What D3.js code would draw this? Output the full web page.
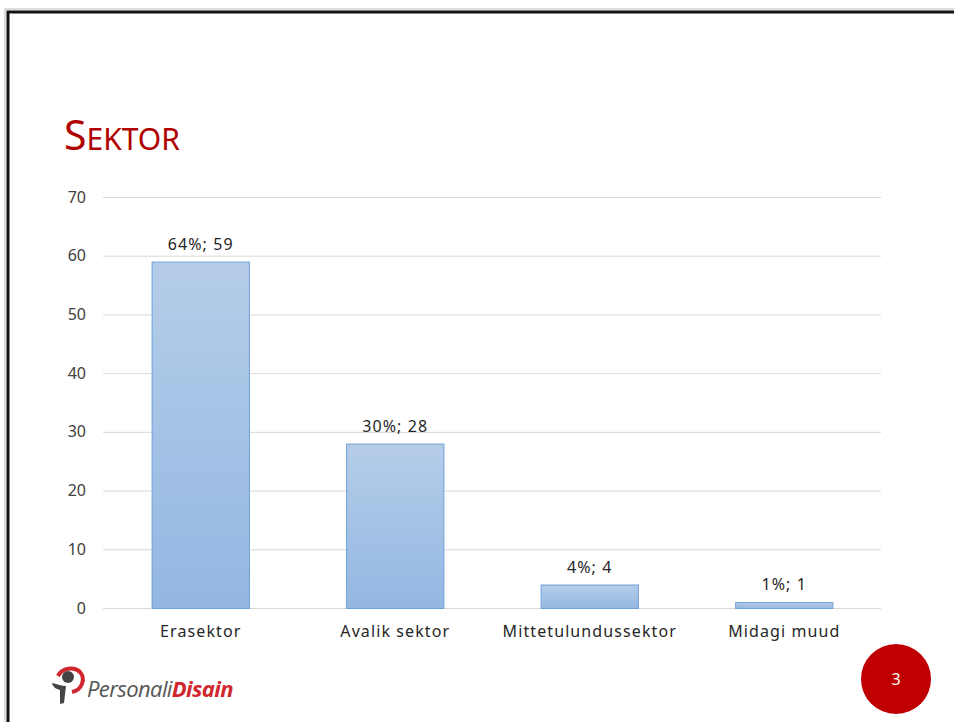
<!DOCTYPE html>
<html><head><meta charset="utf-8">
<script src="https://cdn.jsdelivr.net/npm/d3@7"></script>
<style>
html,body{margin:0;padding:0;background:#fff;overflow:hidden;}
svg{display:block;}
</style></head>
<body>
<script>
const categories = ["Erasektor", "Avalik sektor", "Mittetulundussektor", "Midagi muud"];
const values = [59, 28, 4, 1];
const percents = ["64%", "30%", "4%", "1%"];
const yTicks = [0, 10, 20, 30, 40, 50, 60, 70];

const W = 954, H = 722;
const svg = d3.select("body").append("svg").attr("width", W).attr("height", H);

// slide border
svg.append("rect").attr("x", 5).attr("y", 9).attr("width", 1000).attr("height", 800)
  .attr("fill", "none").attr("stroke", "#bbb").attr("stroke-width", 1);
svg.append("rect").attr("x", 8).attr("y", 12).attr("width", 1000).attr("height", 800)
  .attr("fill", "none").attr("stroke", "#111").attr("stroke-width", 3);

// title
const title = svg.append("text").attr("x", 64).attr("y", 150)
  .attr("fill", "#b00000").attr("font-family", "'Noto Sans', sans-serif");
title.append("tspan").attr("font-size", 41).text("S");
title.append("tspan").attr("font-size", 30).text("EKTOR");

const x = d3.scaleBand().domain(categories).range([103, 881]).paddingInner(0.5).paddingOuter(0.25);
const y = d3.scaleLinear().domain([0, 70]).range([608, 197]);

const font = "'Noto Sans', sans-serif";

// gridlines
svg.append("g").selectAll("line").data(yTicks).join("line")
  .attr("x1", 103).attr("x2", 881)
  .attr("y1", d => y(d) + 0.5).attr("y2", d => y(d) + 0.5)
  .attr("stroke", "#d9d9d9").attr("stroke-width", 1);

// y axis labels
const yAxis = d3.axisLeft(y).tickValues(yTicks).tickSize(0).tickPadding(0);
const gy = svg.append("g").attr("transform", "translate(86,0)").call(yAxis);
gy.select(".domain").remove();
gy.selectAll("text").attr("font-family", font).attr("font-size", 16).attr("fill", "#404040");

// gradient
const defs = svg.append("defs");
const grad = defs.append("linearGradient").attr("id", "bg").attr("x1", 0).attr("y1", 0).attr("x2", 0).attr("y2", 1);
grad.append("stop").attr("offset", "0%").attr("stop-color", "#b5cde9");
grad.append("stop").attr("offset", "100%").attr("stop-color", "#93b7e2");

svg.append("g").selectAll("rect").data(values).join("rect")
  .attr("x", (d, i) => x(categories[i]) + 0.5)
  .attr("y", d => y(d) + 0.5)
  .attr("width", x.bandwidth())
  .attr("height", d => y(0) - y(d))
  .attr("fill", "url(#bg)")
  .attr("stroke", "#6f9fd8").attr("stroke-width", 1);

// data labels
svg.append("g").selectAll("text").data(values).join("text")
  .attr("x", (d, i) => x(categories[i]) + x.bandwidth() / 2 + 0.5)
  .attr("y", d => y(d) - 12)
  .attr("text-anchor", "middle")
  .attr("font-family", font).attr("font-size", 16).attr("fill", "#262626")
  .attr("letter-spacing", 1.1)
  .text((d, i) => percents[i] + "; " + d);

// x axis labels
const xAxis = d3.axisBottom(x).tickSize(0).tickPadding(0);
const gx = svg.append("g").attr("transform", "translate(0.5,626)").call(xAxis);
gx.select(".domain").remove();
gx.selectAll("text").attr("font-family", font).attr("font-size", 16).attr("fill", "#262626")
  .attr("dy", "0.71em").attr("letter-spacing", 1.1);

// page number circle
svg.append("circle").attr("cx", 896).attr("cy", 679).attr("r", 35).attr("fill", "#c00000");
svg.append("text").attr("x", 896).attr("y", 685).attr("text-anchor", "middle")
  .attr("font-family", font).attr("font-size", 16).attr("fill", "#fff").text("3");

// logo
const logo = svg.append("g");
logo.append("path").attr("d", "M58,676 C62,668 74,666 80,672 C86,679 82,690 72,692")
  .attr("fill", "none").attr("stroke", "#d0262d").attr("stroke-width", 4);
logo.append("circle").attr("cx", 68).attr("cy", 677).attr("r", 6).attr("fill", "#444");
logo.append("path").attr("d", "M52,683 C58,684 62,686 66,686 L64,703 L60,704 L60,690 C56,689 53,687 52,683 Z")
  .attr("fill", "#444");
const lt = logo.append("text").attr("x", 87).attr("y", 697)
  .attr("font-family", "'Open Sans', sans-serif").attr("font-size", 22).attr("font-style", "italic")
  .attr("letter-spacing", -0.6);
lt.append("tspan").attr("fill", "#555").text("Personali");
lt.append("tspan").attr("fill", "#d0262d").attr("font-weight", "bold").text("Disain");
</script>
</body></html>
